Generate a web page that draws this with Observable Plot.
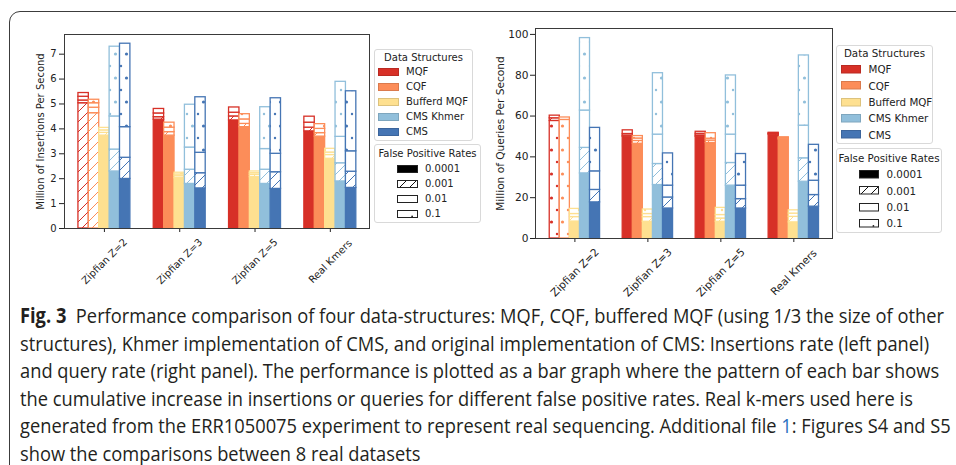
<!DOCTYPE html>
<html>
<head>
<meta charset="utf-8">
<script src="https://cdn.jsdelivr.net/npm/d3@7"></script>
<script src="https://cdn.jsdelivr.net/npm/@observablehq/plot@0.6"></script>
<style>
  html, body { margin:0; padding:0; background:#fff; }
  body { width:956px; height:465px; position:relative; overflow:hidden; font-family:"DejaVu Sans", sans-serif; }
  #border { position:absolute; left:8.5px; top:10.5px; width:1000px; height:520px; border:1.3px solid #3c3c3c; border-radius:11px; box-sizing:border-box; }
  .lg { position:absolute; border:1px solid #d9d9d9; border-radius:3px; background:rgba(255,255,255,0.9); box-sizing:border-box; }
  .lgt { position:absolute; font-family:"DejaVu Sans", sans-serif; font-size:10px; color:#222; white-space:nowrap; line-height:1; transform:translateY(-50%); }
  .sw { position:absolute; overflow:visible; }
  .cap { position:absolute; left:20px; white-space:nowrap; font-family:"Open Sans","Noto Sans",sans-serif; font-size:20.5px; line-height:22px; color:#231f20; transform-origin:0 50%; }
  .cap b { font-weight:bold; }
  .cap .lnk { color:#2a70c0; }
</style>
</head>
<body>
<div id="border"></div>
<svg id="defs" width="0" height="0" style="position:absolute;left:0;top:0"><defs></defs></svg>
<div id="root"></div>
<script>
// ---------- data ----------
const categories = ["Zipfian Z=2", "Zipfian Z=3", "Zipfian Z=5", "Real Kmers"];
const seriesNames = ["MQF", "CQF", "Bufferd MQF", "CMS Khmer", "CMS"];
const seriesColors = ["#d73027", "#fc8d59", "#fee090", "#91bfdb", "#4575b4"];
const fprLabels = ["0.0001", "0.001", "0.01", "0.1"];
const insTicks = [0, 1, 2, 3, 4, 5, 6, 7];
const qryTicks = [0, 20, 40, 60, 80, 100];
const insLabel = "Million of Insertions Per Second";
const qryLabel = "Million of Queries Per Second";

// each bar: list of [false-positive-rate index, cumulative top] from bottom to top
const insMQF = [[[1,5.03],[2,5.14],[2,5.29],[3,5.44]], [[0,4.37],[1,4.47],[2,4.62],[3,4.80]], [[0,4.34],[1,4.50],[2,4.65],[3,4.86]], [[0,3.90],[1,4.05],[2,4.25],[3,4.49]]];
const insCQF = [[[1,4.63],[2,4.85],[2,5.03],[3,5.17]], [[0,3.73],[1,3.87],[2,4.05],[3,4.25]], [[0,4.07],[1,4.20],[2,4.38],[3,4.59]], [[0,3.69],[1,3.83],[2,4.00],[3,4.19]]];
const insBuf = [[[0,3.73],[1,3.84],[2,3.94],[3,4.04]], [[0,2.02],[1,2.10],[2,2.17],[3,2.24]], [[0,2.06],[1,2.15],[2,2.22],[3,2.29]], [[0,2.80],[1,2.95],[2,3.05],[3,3.20]]];
const insKhmer = [[[0,2.29],[1,3.17],[2,4.50],[3,7.30]], [[0,1.79],[1,2.36],[2,3.25],[3,4.97]], [[0,1.79],[1,2.36],[2,3.19],[3,4.87]], [[0,1.89],[1,2.62],[2,3.68],[3,5.89]]];
const insCMS = [[[0,1.99],[1,2.84],[2,4.07],[3,7.42]], [[0,1.61],[1,2.22],[2,3.04],[3,5.27]], [[0,1.59],[1,2.26],[2,3.00],[3,5.23]], [[0,1.63],[1,2.28],[2,3.10],[3,5.51]]];

const qryMQF = [[[3,57.6],[1,58.9],[2,60.2]], [[0,49.9],[1,50.4],[2,51.2],[3,53.0]], [[0,49.9],[1,50.5],[2,51.3],[3,52.3]], [[0,50.9],[1,51.2],[2,51.5],[3,51.8]]];
const qryCQF = [[[3,58.1],[2,59.3]], [[0,46.4],[1,47.8],[2,49.0],[3,50.2]], [[0,46.8],[1,48.0],[2,48.9],[3,51.6]], [[0,48.5],[1,48.9],[2,49.2],[3,49.6]]];
const qryBuf = [[[0,8.3],[1,10.5],[2,12.0],[3,14.5]], [[0,8.2],[1,10.5],[2,12.0],[3,14.2]], [[0,8.2],[1,9.8],[2,11.5],[3,15.0]], [[0,7.9],[1,10.6],[2,12.2],[3,13.8]]];
const qryKhmer = [[[0,31.9],[1,44.4],[2,62.7],[3,98.2]], [[0,26.2],[1,36.5],[2,50.9],[3,81.0]], [[0,25.9],[1,37.0],[2,50.9],[3,79.9]], [[0,27.8],[1,39.3],[2,55.3],[3,89.7]]];
const qryCMS = [[[0,17.7],[1,23.8],[2,32.9],[3,54.2]], [[0,14.7],[1,20.1],[2,25.9],[3,41.7]], [[0,14.7],[1,19.3],[2,25.9],[3,41.4]], [[0,15.6],[1,21.3],[2,28.3],[3,45.9]]];

const captionLines = [
  "<b>Fig. 3</b>&nbsp; Performance comparison of four data-structures: MQF, CQF, buffered MQF (using 1/3 the size of other",
  "structures), Khmer implementation of CMS, and original implementation of CMS: Insertions rate (left panel)",
  "and query rate (right panel). The performance is plotted as a bar graph where the pattern of each bar shows",
  "the cumulative increase in insertions or queries for different false positive rates. Real k-mers used here is",
  "generated from the ERR1050075 experiment to represent real sequencing. Additional file <span class=\"lnk\">1</span>: Figures S4 and S5",
  "show the comparisons between 8 real datasets"
];

// ---------- patterns ----------
const defs = d3.select("#defs defs");
const patColors = [...seriesColors, "#111"];
patColors.forEach((c, i) => {
  const h = defs.append("pattern").attr("id", "hatch" + i).attr("patternUnits", "userSpaceOnUse").attr("width", 10).attr("height", 10);
  h.append("rect").attr("width", 10).attr("height", 10).attr("fill", "#fff");
  h.append("path").attr("d", "M-5,5L5,-5M0,10L10,0M5,15L15,5").attr("stroke", c).attr("stroke-width", 1);
  const p = defs.append("pattern").attr("id", "dots" + i).attr("patternUnits", "userSpaceOnUse").attr("width", 11).attr("height", 24);
  p.append("rect").attr("width", 11).attr("height", 24).attr("fill", "#fff");
  p.append("circle").attr("cx", 5.5).attr("cy", 6).attr("r", 1.6).attr("fill", c);
  p.append("circle").attr("cx", 0).attr("cy", 18).attr("r", 1.2).attr("fill", c);
  p.append("circle").attr("cx", 11).attr("cy", 18).attr("r", 1.2).attr("fill", c);
});

function fillFor(lvl, si) {
  if (lvl === 0) return seriesColors[si];
  if (lvl === 1) return `url(#hatch${si})`;
  if (lvl === 2) return "#ffffff";
  return `url(#dots${si})`;
}

const BAR_W = 0.138;
function buildRows(seriesData) {
  const rows = [];
  seriesData.forEach((bars, si) => {
    const off = (si - 2) * BAR_W;
    bars.forEach((segs, ci) => {
      let prev = 0;
      segs.forEach(([lvl, top]) => {
        rows.push({si, lvl, x1: ci + off - BAR_W / 2, x2: ci + off + BAR_W / 2, y1: prev, y2: top});
        prev = top;
      });
    });
  });
  return rows;
}

const root = document.getElementById("root");

function drawPanel(o) {
  const rows = buildRows(o.data);
  const svg = Plot.plot({
    width: o.width, height: o.height,
    marginLeft: o.ml, marginRight: o.mr, marginTop: o.mt, marginBottom: o.mb,
    style: {fontFamily: "DejaVu Sans, sans-serif", fontSize: o.fs + "px", color: "#222", background: "transparent", overflow: "visible"},
    x: {domain: o.xDomain, ticks: [0, 1, 2, 3], tickFormat: () => "", tickSize: 4, label: null},
    y: {domain: o.yDomain, ticks: o.yTicks, tickSize: 5, tickPadding: o.tp, label: null, tickFormat: d => String(d)},
    color: {type: "identity"},
    marks: [
      Plot.rect(rows, {x1: "x1", x2: "x2", y1: "y1", y2: "y2", fill: d => fillFor(d.lvl, d.si), stroke: d => seriesColors[d.si], strokeWidth: 1.3}),
      Plot.frame({stroke: "#3a3a3a", strokeWidth: 1}),
      Plot.text(categories, {x: (d, i) => i, frameAnchor: "bottom", text: d => d, rotate: -45, dy: o.xdy, textAnchor: "middle", lineAnchor: "middle", fill: "#222"}),
      Plot.text([o.ylabel], {frameAnchor: "left", text: d => d, rotate: -90, dx: o.ydx, textAnchor: "middle", lineAnchor: "middle", fill: "#222"})
    ]
  });
  svg.style.position = "absolute";
  svg.style.left = o.left + "px";
  svg.style.top = o.top + "px";
  root.appendChild(svg);
}

drawPanel({data: [insMQF, insCQF, insBuf, insKhmer, insCMS], left: 0, top: 0, width: 480, height: 295,
  ml: 64, mr: 111, mt: 34, mb: 67, fs: 10, tp: 3, xDomain: [-0.53, 3.52], yDomain: [0, 7.79], yTicks: insTicks,
  xdy: 33, ydx: -24, ylabel: insLabel});
drawPanel({data: [qryMQF, qryCQF, qryBuf, qryKhmer, qryCMS], left: 480, top: 0, width: 476, height: 300,
  ml: 55, mr: 124, mt: 28, mb: 62, fs: 10.6, tp: 2, xDomain: [-0.54, 3.53], yDomain: [0, 102.9], yTicks: qryTicks,
  xdy: 34, ydx: -35, ylabel: qryLabel});

// ---------- legends ----------
function el(tag, cls, style, html) {
  const e = document.createElement(tag);
  if (cls) e.className = cls;
  Object.assign(e.style, style);
  if (html != null) e.innerHTML = html;
  root.appendChild(e);
  return e;
}
function swatch(x, y, w, h, draw) {
  const s = d3.select(root).append("svg").attr("class", "sw").attr("width", w).attr("height", h)
    .style("left", x + "px").style("top", (y - h / 2) + "px");
  draw(s, w, h);
}
function legends(L) {
  el("div", "lg", {left: L.ds.x + "px", top: L.ds.y + "px", width: L.ds.w + "px", height: L.ds.h + "px"});
  el("div", "lgt", {left: (L.ds.x + L.ds.w / 2) + "px", top: L.ds.ty + "px", transform: "translate(-50%,-50%)", fontSize: L.fs + "px"}, "Data Structures");
  seriesNames.forEach((n, i) => {
    const y = L.ds.r0 + i * L.step;
    swatch(L.ds.sx, y, L.sw, L.sh, (s, w, h) => s.append("rect").attr("x", 0.5).attr("y", 0.5).attr("width", w - 1).attr("height", h - 1)
      .attr("fill", seriesColors[i]).attr("stroke", d3.color(seriesColors[i]).darker(0.4)).attr("stroke-width", 1));
    el("div", "lgt", {left: L.ds.tx + "px", top: y + "px", fontSize: L.fs + "px"}, n);
  });
  el("div", "lg", {left: L.fp.x + "px", top: L.fp.y + "px", width: L.fp.w + "px", height: L.fp.h + "px"});
  el("div", "lgt", {left: (L.fp.x + L.fp.w / 2) + "px", top: L.fp.ty + "px", transform: "translate(-50%,-50%)", fontSize: L.fs + "px"}, "False Positive Rates");
  fprLabels.forEach((n, i) => {
    const y = L.fp.r0 + i * L.step;
    swatch(L.fp.sx, y, L.sw, L.sh, (s, w, h) => {
      const fills = ["#000", "url(#hatch5)", "#fff", "#fff"];
      s.append("rect").attr("x", 0.5).attr("y", 0.5).attr("width", w - 1).attr("height", h - 1)
        .attr("fill", fills[i]).attr("stroke", "#222").attr("stroke-width", 1);
      if (i === 3) s.append("circle").attr("cx", w * 0.72).attr("cy", h - 1.6).attr("r", 0.9).attr("fill", "#222");
    });
    el("div", "lgt", {left: L.fp.tx + "px", top: y + "px", fontSize: L.fs + "px"}, n);
  });
}
legends({fs: 10, step: 15, sw: 21, sh: 8,
  ds: {x: 374, y: 49, w: 99, h: 92, ty: 57.5, r0: 72.3, sx: 378, tx: 406},
  fp: {x: 374, y: 144, w: 107, h: 79, ty: 154, r0: 169, sx: 397, tx: 425}});
legends({fs: 10.3, step: 16.3, sw: 20, sh: 8.5,
  ds: {x: 836, y: 45, w: 97, h: 99, ty: 53.3, r0: 69.3, sx: 841, tx: 868.5},
  fp: {x: 836, y: 148, w: 106, h: 85, ty: 157.5, r0: 174.3, sx: 859, tx: 886.5}});

// ---------- caption ----------
const capEls = captionLines.map((t, i) => el("div", "cap", {top: (315 + i * 27.5 - 11) + "px"}, t));
function fitCaption() {
  capEls.forEach(e => e.style.transform = "");
  const w = capEls[0].getBoundingClientRect().width;
  const k = w > 0 ? 924 / w : 1;
  capEls.forEach(e => { e.style.transform = `scaleX(${k})`; });
}
fitCaption();
if (document.fonts && document.fonts.ready) document.fonts.ready.then(fitCaption);
</script>
</body>
</html>
